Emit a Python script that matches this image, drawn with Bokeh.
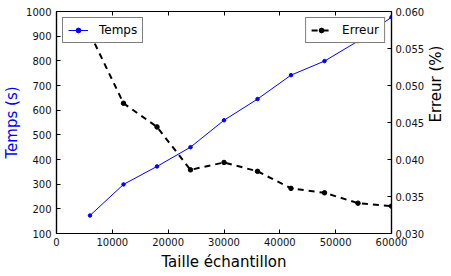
import math
from bokeh.plotting import figure
from bokeh.models import (LinearAxis, Range1d, FixedTicker, Legend, LegendItem,
                          ColumnDataSource)
from bokeh.embed import file_html
from bokeh.resources import INLINE

taille = [6000, 12000, 18000, 24000, 30000, 36000, 42000, 48000, 54000, 60000]
temps = [173, 299, 372, 450, 559, 645, 742, 799, 880, 977]
erreur = [0.0570, 0.0476, 0.0444, 0.0386, 0.0396, 0.0384, 0.0361, 0.0355, 0.0341, 0.0337]

x_ticks = [0, 10000, 20000, 30000, 40000, 50000, 60000]
y_ticks = [100, 200, 300, 400, 500, 600, 700, 800, 900, 1000]
y2_ticks = [0.030, 0.035, 0.040, 0.045, 0.050, 0.055, 0.060]
y2_labels = ["0.030", "0.035", "0.040", "0.045", "0.050", "0.055", "0.060"]

FONT = "DejaVu Sans"

p = figure(frame_width=335, frame_height=222, output_backend="svg",
           toolbar_location=None,
           x_range=Range1d(0, 60000), y_range=Range1d(100, 1000),
           min_border_left=49, min_border_right=57, min_border_top=11,
           min_border_bottom=36)
p.extra_y_ranges = {"err": Range1d(0.030, 0.060)}
p.grid.visible = False
p.outline_line_color = "black"
p.outline_line_width = 1.2
p.background_fill_color = "white"
p.border_fill_color = "white"


def style_axis(ax):
    ax.major_tick_in = 4
    ax.major_tick_out = 0
    ax.minor_tick_line_color = None
    ax.axis_line_color = "black"
    ax.axis_line_width = 1.2
    ax.major_tick_line_color = "black"
    ax.major_label_text_font = FONT
    ax.major_label_text_font_size = "10px"
    ax.major_label_text_color = "#111111"
    ax.axis_label_text_font = FONT
    ax.axis_label_text_font_size = "15px"
    ax.axis_label_text_font_style = "normal"
    ax.axis_label_text_color = "black"


xa = p.xaxis[0]
xa.ticker = FixedTicker(ticks=x_ticks)
xa.axis_label = "Taille échantillon"
style_axis(xa)
xa.major_label_standoff = 4
xa.axis_label_standoff = 4

ya = p.yaxis[0]
ya.ticker = FixedTicker(ticks=y_ticks)
ya.axis_label = "Temps (s)"
style_axis(ya)
ya.axis_label_text_color = "blue"
ya.major_label_standoff = 5
ya.axis_label_standoff = 2

ya2 = LinearAxis(y_range_name="err", ticker=FixedTicker(ticks=y2_ticks),
                 axis_label="Erreur (%)")
style_axis(ya2)
ya2.major_label_overrides = {t: l for t, l in zip(y2_ticks, y2_labels)}
ya2.major_label_standoff = 4
ya2.axis_label_standoff = 9
if "axis_label_orientation" in ya2.properties():
    ya2.axis_label_orientation = math.pi / 2
p.add_layout(ya2, "right")

xa2 = LinearAxis(ticker=FixedTicker(ticks=x_ticks))
style_axis(xa2)
xa2.major_label_overrides = {t: "" for t in x_ticks}
xa2.major_label_standoff = 0
p.add_layout(xa2, "above")

src = ColumnDataSource(dict(x=taille, t=temps, e=erreur))

l1 = p.line("x", "t", source=src, line_color="blue", line_width=1)
m1 = p.scatter("x", "t", source=src, size=3.5, color="blue")
l2 = p.line("x", "e", source=src, y_range_name="err", line_color="black",
            line_width=2, line_dash="6 5")
m2 = p.scatter("x", "e", source=src, y_range_name="err", size=4.5, color="black")


def make_legend(items, loc):
    lg = Legend(items=items, location=loc)
    lg.border_line_color = "black"
    lg.border_line_width = 1
    lg.background_fill_alpha = 1
    lg.label_text_font = FONT
    lg.label_text_font_size = "12px"
    lg.label_text_color = "black"
    lg.glyph_width = 20
    lg.glyph_height = 12
    lg.label_height = 12
    lg.label_standoff = 11
    lg.padding = 5
    lg.margin = 6
    lg.spacing = 0
    return lg


p.add_layout(make_legend([LegendItem(label="Temps", renderers=[l1, m1])], "top_left"))
p.add_layout(make_legend([LegendItem(label="Erreur", renderers=[l2, m2])], "top_right"))

open("out.html", "w").write(file_html(p, INLINE))
